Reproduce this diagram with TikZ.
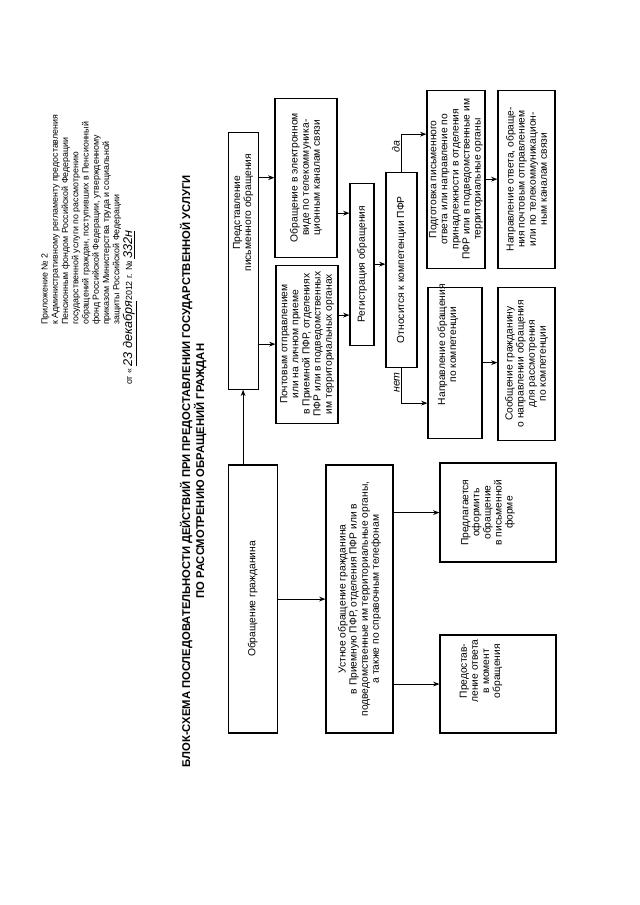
\documentclass[tikz,border=0pt]{standalone}
\usepackage{fontspec}
\setmainfont{Liberation Sans}
\usetikzlibrary{arrows.meta,positioning}
\tikzset{
  stepbox/.style={draw, line width=0.85pt, align=center, inner sep=1pt,
    font=\fontsize{7.3}{7.9}\selectfont},
  boxtext/.style={align=center, inner sep=0pt, font=\fontsize{7.3}{7.9}\selectfont},
  flow/.style={-{Stealth[length=4.5pt,width=3.4pt]}, line width=0.65pt},
  branch/.style={font=\itshape\fontsize{7.5}{8}\selectfont, inner sep=1pt}
}

\begin{document}
\begin{tikzpicture}
\useasboundingbox (0,0) rectangle (16,22.625);
\begin{scope}[xshift=16cm, rotate=90, transform shape, x=0.025cm, y=0.025cm]
% heading of the annex
\node[anchor=north west, align=left, inner sep=0pt, font=\fontsize{6.3}{7.3}\selectfont] (annex) at (580,599)
  {Приложение № 2\\
   к Административному регламенту предоставления\\
   Пенсионным фондом Российской Федерации\\
   государственной услуги по рассмотрению\\
   обращений граждан, поступивших в Пенсионный\\
   фонд Российской Федерации, утвержденному\\
   приказом Министерства труда и социальной\\
   защиты Российской Федерации};
\node[anchor=west, inner sep=0pt, font=\fontsize{6.3}{7.3}\selectfont] (order) at (520,510)
  {от « \underline{\itshape\fontsize{9}{9}\selectfont 23 декабря}2012 г. № \underline{\itshape\fontsize{9}{9}\selectfont 332н}};
\node[align=center, inner sep=0pt, font=\bfseries\fontsize{8}{8.6}\selectfont] (title) at (434,447)
  {БЛОК-СХЕМА ПОСЛЕДОВАТЕЛЬНОСТИ ДЕЙСТВИЙ ПРИ ПРЕДОСТАВЛЕНИИ ГОСУДАРСТВЕННОЙ УСЛУГИ\\
   ПО РАССМОТРЕНИЮ ОБРАЩЕНИЙ ГРАЖДАН};

% boxes
\node[stepbox, minimum width=6.7cm, minimum height=1.225cm] (citizen) at (306,387.5) {Обращение гражданина};
\node[stepbox, minimum width=6.425cm, minimum height=0.75cm,
  label={[boxtext, xshift=1.2cm]center:Представление\\письменного обращения}] (written) at (644.5,397) {};
\node[stepbox, minimum width=3.95cm, minimum height=1.55cm] (post) at (561,333)
  {Почтовым отправлением\\или на личном приеме\\в Приемной ПФР, отделениях\\ПФР или в подведомственных\\им территориальных органах};
\node[stepbox, minimum width=3.975cm, minimum height=1.55cm] (online) at (727.5,334)
  {Обращение в электронном\\виде по телекоммуника-\\ционным каналам связи};
\node[stepbox, minimum width=4.05cm, minimum height=0.6cm] (reg) at (641,278) {Регистрация обращения};
\node[stepbox, minimum width=4.875cm, minimum height=0.775cm] (check) at (635.5,238.5) {Относится к компетенции ПФР};
\node[stepbox, minimum width=4.45cm, minimum height=1.45cm] (answer) at (726,184)
  {Подготовка письменного\\ответа или направление по\\принадлежности в отделения\\ПФР или в подведомственные им\\территориальные органы};
\node[stepbox, minimum width=4.45cm, minimum height=1.425cm] (send) at (726,113.5)
  {Направление ответа, обраще-\\ния почтовым отправлением\\или по телекоммуникацион-\\ным каналам связи};
\node[stepbox, minimum width=3.775cm, minimum height=1.35cm,
  label={[boxtext, xshift=0.45cm, yshift=0.18cm]center:Направление обращения\\по компетенции}] (redirect) at (542.5,185) {};
\node[stepbox, minimum width=3.825cm, minimum height=1.425cm] (notify) at (541.5,113.5)
  {Сообщение гражданину\\о направлении обращения\\для рассмотрения\\по компетенции};
\node[stepbox, minimum width=6.7cm, minimum height=1.675cm] (oral) at (306,280.5)
  {Устное обращение гражданина\\в Приемную ПФР, отделения ПФР или в\\подведомственные им территориальные органы,\\а также по справочным телефонам};
\node[stepbox, minimum width=2.475cm, minimum height=2.9cm,
  label={[boxtext, yshift=0.25cm]center:Предлагается\\оформить\\обращение\\в письменной\\форме}] (offer) at (392.5,142) {};
\node[stepbox, minimum width=2.45cm, minimum height=2.9cm,
  label={[boxtext, xshift=0.325cm, yshift=0.425cm]center:Предостав-\\ление ответа\\в момент\\обращения}] (reply) at (221,142) {};

% connectors
\draw[flow] (citizen.east |- written.west) -- (written.west);
\draw[flow] (citizen) -- (oral);
\draw[flow] (post.north |- written.south) -- (post.north);
\draw[flow] (online.north |- written.south) -- (online.north);
\draw[flow] ([xshift=0.725cm]post.south) -- ([xshift=0.725cm]post.south |- reg.north);
\draw[flow] ([xshift=-0.8875cm]online.south) -- ([xshift=-0.8875cm]online.south |- reg.north);
\draw[flow] (reg) -- (reg |- check.north);
\draw[flow] (check.east) -| node[branch, pos=0.33, above] {да} ([xshift=1.125cm]answer.north);
\draw[flow] (check.west) -| node[branch, pos=0.21, above] {нет} ([xshift=-1.0125cm]redirect.north);
\draw[flow] (answer) -- (send);
\draw[flow] (redirect.south) -- (redirect.south |- notify.north);
\draw[flow] (offer.north |- oral.south) -- (offer.north);
\draw[flow] (reply.north |- oral.south) -- (reply.north);
\end{scope}
\end{tikzpicture}
\end{document}
